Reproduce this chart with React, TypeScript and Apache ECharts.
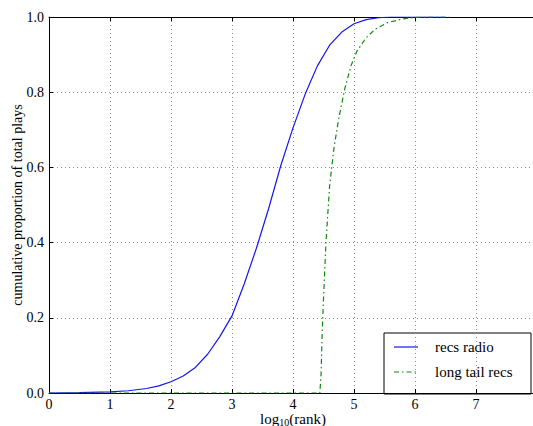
import React, { useEffect, useRef } from "react";
import * as echarts from "echarts";

const recsX = [0, 0.5, 1.0, 1.3, 1.6, 1.8, 2.0, 2.2, 2.4, 2.6, 2.8, 3.0, 3.2, 3.4, 3.6, 3.8, 4.0, 4.2, 4.4, 4.6, 4.8, 5.0, 5.2, 5.4, 5.6, 5.8, 6.0, 6.5];
const recsY = [0, 0.001, 0.003, 0.006, 0.012, 0.019, 0.03, 0.045, 0.068, 0.103, 0.15, 0.205, 0.29, 0.385, 0.49, 0.605, 0.705, 0.795, 0.87, 0.925, 0.96, 0.982, 0.993, 0.998, 1.0, 1.0, 1.0, 1.0];

const tailX = [0, 4.0, 4.44, 4.46, 4.48, 4.5, 4.54, 4.6, 4.67, 4.75, 4.85, 4.95, 5.05, 5.2, 5.35, 5.55, 5.8, 6.0, 6.2, 6.6];
const tailY = [0, 0, 0, 0.05, 0.17, 0.25, 0.4, 0.55, 0.65, 0.73, 0.81, 0.87, 0.91, 0.945, 0.968, 0.985, 0.995, 0.999, 1.0, 1.0];

const seriesNames = ["recs radio", "long tail recs"];
const xTicks = [0, 1, 2, 3, 4, 5, 6, 7, 8];
const yTicks = [0, 0.2, 0.4, 0.6, 0.8, 1.0];

const FONT = "Liberation Serif";
const BLUE = "#1515ee";
const GREEN = "#118811";
const GREEN_DASH = [5, 3, 1.5, 3];

export default function App() {
  const ref = useRef<HTMLDivElement>(null);
  useEffect(() => {
    if (!ref.current) return;
    const chart = echarts.init(ref.current, null, { renderer: "svg" });
    const axisBase = {
      type: "value" as const,
      min: xTicks[0],
      max: xTicks[xTicks.length - 1],
      interval: 1,
    };
    const legendBox = { x: 384, y: 333, w: 147, h: 61 };
    chart.setOption({
      animation: false,
      textStyle: { fontFamily: FONT },
      grid: { left: 49, top: 17, right: -4, bottom: 33, containLabel: false, outerBoundsMode: "none" },
      xAxis: [
        {
          ...axisBase,
          position: "bottom",
          name: "log{sub|10}(rank)",
          nameLocation: "middle",
          nameGap: 17,
          nameMoveOverlap: false,
          nameTextStyle: {
            fontFamily: FONT,
            fontSize: 15,
            color: "#000",
            rich: { sub: { fontFamily: FONT, fontSize: 10, verticalAlign: "bottom", padding: [7, 0, 0, 0], color: "#000" } },
          },
          axisLine: { show: true, lineStyle: { color: "#000", width: 1 } },
          axisTick: { show: true, inside: true, length: 4, lineStyle: { color: "#000" } },
          axisLabel: { color: "#000", fontSize: 14, fontFamily: FONT, margin: 4, formatter: (v: number) => String(v) },
          splitLine: { show: true, lineStyle: { color: "#888", type: [1, 3], width: 1 } },
        },
        {
          ...axisBase,
          position: "top",
          axisLine: { show: true, lineStyle: { color: "#000", width: 1 } },
          axisTick: { show: true, inside: true, length: 4, lineStyle: { color: "#000" } },
          axisLabel: { show: false },
          splitLine: { show: false },
        },
      ],
      yAxis: [
        {
          type: "value",
          min: yTicks[0],
          max: yTicks[yTicks.length - 1],
          interval: 0.2,
          name: "cumulative proportion of total plays",
          nameLocation: "middle",
          nameGap: 25,
          nameMoveOverlap: false,
          nameTextStyle: { fontFamily: FONT, fontSize: 14, color: "#000" },
          axisLine: { show: true, lineStyle: { color: "#000", width: 1 } },
          axisTick: { show: true, inside: true, length: 4, lineStyle: { color: "#000" } },
          axisLabel: { color: "#000", fontSize: 14, fontFamily: FONT, margin: 5, formatter: (v: number) => v.toFixed(1) },
          splitLine: { show: true, lineStyle: { color: "#888", type: [1, 3], width: 1 } },
        },
      ],
      graphic: [
        {
          type: "group",
          z: 100,
          children: [
            {
              type: "rect",
              shape: { x: legendBox.x, y: legendBox.y, width: legendBox.w, height: legendBox.h },
              style: { fill: "#fff", stroke: "#000", lineWidth: 1 },
            },
            {
              type: "line",
              shape: { x1: 394, y1: 347, x2: 418, y2: 347 },
              style: { stroke: BLUE, lineWidth: 1.2 },
            },
            {
              type: "line",
              shape: { x1: 394, y1: 372, x2: 418, y2: 372 },
              style: { stroke: GREEN, lineWidth: 1.2, lineDash: GREEN_DASH },
            },
            {
              type: "text",
              x: 435,
              y: 347,
              style: { text: seriesNames[0], fontFamily: FONT, fontSize: 15, fill: "#000", verticalAlign: "middle", align: "left" },
            },
            {
              type: "text",
              x: 435,
              y: 372,
              style: { text: seriesNames[1], fontFamily: FONT, fontSize: 15, fill: "#000", verticalAlign: "middle", align: "left" },
            },
          ],
        },
      ],
      series: [
        {
          name: seriesNames[0],
          type: "line",
          xAxisIndex: 0,
          showSymbol: false,
          symbol: "none",
          data: recsX.map((x, i) => [x, recsY[i]]),
          lineStyle: { color: BLUE, width: 1.2, type: "solid" },
          itemStyle: { color: BLUE },
          z: 3,
        },
        {
          name: seriesNames[1],
          type: "line",
          xAxisIndex: 0,
          showSymbol: false,
          symbol: "none",
          data: tailX.map((x, i) => [x, tailY[i]]),
          lineStyle: { color: GREEN, width: 1.2, type: GREEN_DASH },
          itemStyle: { color: GREEN },
          z: 3,
        },
      ],
    });
    return () => chart.dispose();
  }, []);
  return (
    <div
      ref={ref}
      style={{ position: "fixed", left: 0, top: 0, width: 533, height: 426, background: "#fff" }}
    />
  );
}
